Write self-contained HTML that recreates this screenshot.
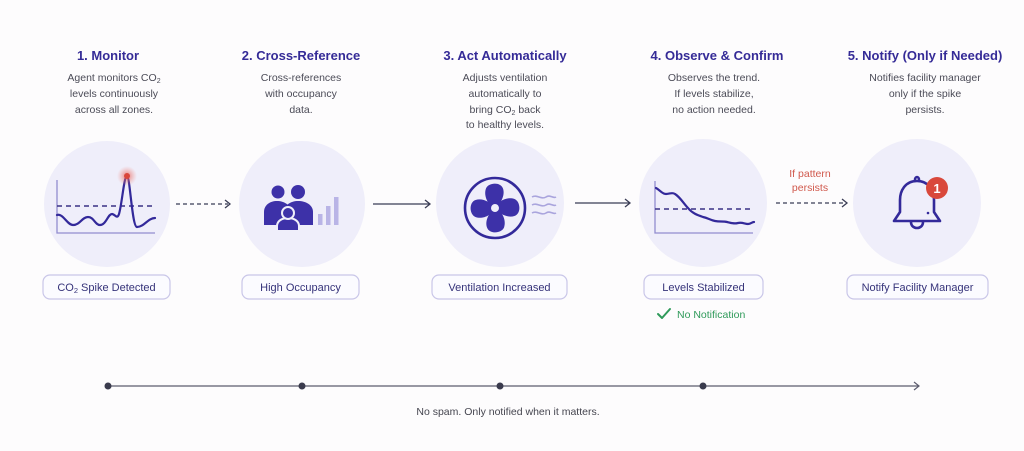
<!DOCTYPE html>
<html><head><meta charset="utf-8"><style>
html,body{margin:0;padding:0;background:#fdfcfd;}
svg{display:block;}
text{font-family:"Liberation Sans",Arial,sans-serif;}
.t{font-size:13px;font-weight:bold;fill:#352b97;text-anchor:middle;}
.d{font-size:10.5px;fill:#4b4b57;text-anchor:middle;}
.p{font-size:11px;fill:#36337a;text-anchor:middle;}
.pill{fill:#fbfbff;stroke:#c9c6e8;stroke-width:1.2;}
.c{fill:#efeefa;}
</style></head><body>
<svg width="1024" height="451" viewBox="0 0 1024 451" xmlns="http://www.w3.org/2000/svg">
<defs>
<radialGradient id="glow"><stop offset="0" stop-color="#e9544a" stop-opacity="0.75"/><stop offset="1" stop-color="#f08a80" stop-opacity="0"/></radialGradient>
</defs>
<rect width="1024" height="451" fill="#fdfcfd"/>

<!-- Titles -->
<text class="t" x="108" y="60">1. Monitor</text>
<text class="t" x="301" y="60">2. Cross-Reference</text>
<text class="t" x="505" y="60">3. Act Automatically</text>
<text class="t" x="717" y="60">4. Observe &amp; Confirm</text>
<text class="t" x="925" y="60">5. Notify (Only if Needed)</text>

<!-- Descriptions -->
<text class="d" x="114" y="81">Agent monitors CO<tspan font-size="7" dy="2">2</tspan></text>
<text class="d" x="114" y="97">levels continuously</text>
<text class="d" x="114" y="113">across all zones.</text>

<text class="d" x="301" y="81">Cross-references</text>
<text class="d" x="301" y="97">with occupancy</text>
<text class="d" x="301" y="113">data.</text>

<text class="d" x="505" y="81">Adjusts ventilation</text>
<text class="d" x="505" y="97">automatically to</text>
<text class="d" x="505" y="113">bring CO<tspan font-size="7" dy="2">2</tspan><tspan dy="-2"> back</tspan></text>
<text class="d" x="505" y="128">to healthy levels.</text>

<text class="d" x="714" y="81">Observes the trend.</text>
<text class="d" x="714" y="97">If levels stabilize,</text>
<text class="d" x="714" y="113">no action needed.</text>

<text class="d" x="925" y="81">Notifies facility manager</text>
<text class="d" x="925" y="97">only if the spike</text>
<text class="d" x="925" y="113">persists.</text>

<!-- Circles -->
<circle class="c" cx="107" cy="204" r="63"/>
<circle class="c" cx="302" cy="204" r="63"/>
<circle class="c" cx="500" cy="203" r="64"/>
<circle class="c" cx="703" cy="203" r="64"/>
<circle class="c" cx="917" cy="203" r="64"/>

<!-- Chart 1 -->
<g>
<path d="M57,180 L57,233 L155,233" fill="none" stroke="#928dcf" stroke-width="1.3"/>
<line x1="57" y1="206" x2="156" y2="206" stroke="#3a3185" stroke-width="1.5" stroke-dasharray="5,4"/>
<path d="M57,215 C63,213 67,225 73,225 C80,225 82,217 88,217 C94,217 95,225 100,225 C106,225 108,214 112,214 C115,214 117,220 119,214 C122,204 124,176 127,176 C130,176 132,227 137,227 C144,227 148,218 155,218" fill="none" stroke="#33299a" stroke-width="2.2" stroke-linecap="round"/>
<circle cx="127" cy="176" r="10" fill="url(#glow)"/>
<circle cx="127" cy="176" r="3" fill="#d9453a"/>
</g>

<!-- People icon -->
<g fill="#3d31a8">
<circle cx="278" cy="192" r="6.5"/>
<circle cx="298" cy="192" r="7"/>
<path d="M264,225 L264,212 C264,205 270,201 277,201 C284,201 291,205 291,212 L291,225 Z"/>
<path d="M284,225 L284,212 C284,205 291,201 298,201 C306,201 313,205 313,212 L313,225 Z"/>
<path d="M277,231 L277,226 C277,221 282,218 288,218 C294,218 299,221 299,226 L299,231 Z" stroke="#efeefa" stroke-width="2"/>
<circle cx="288" cy="213" r="6" stroke="#efeefa" stroke-width="2"/>
</g>
<g fill="#b9b4e6">
<rect x="318" y="214" width="4.5" height="11"/>
<rect x="326" y="206" width="4.5" height="19"/>
<rect x="334" y="197" width="4.5" height="28"/>
</g>

<!-- Fan -->
<g>
<circle cx="495" cy="208" r="30" fill="none" stroke="#33299a" stroke-width="2.6"/>
<g fill="#3d31a8" transform="translate(495,208) rotate(-3)">
<path id="bl" d="M0,0 C-7,-3 -11,-13 -8,-20 C-5,-26 7,-26 9,-19 C11,-12 6,-4 0,0 Z"/>
<use href="#bl" transform="rotate(90)"/>
<use href="#bl" transform="rotate(180)"/>
<use href="#bl" transform="rotate(270)"/>
<circle r="4" fill="#efeefa"/>
</g>
<g fill="none" stroke="#a9a4dd" stroke-width="1.6">
<path d="M532,197 C537,194 541,200 546,197 C550,194 553,199 556,197"/>
<path d="M532,205 C537,202 541,208 546,205 C550,202 553,207 556,205"/>
<path d="M532,213 C537,210 541,216 546,213 C550,210 553,215 556,213"/>
</g>
</g>

<!-- Chart 4 -->
<g>
<path d="M655,181 L655,233 L753,233" fill="none" stroke="#928dcf" stroke-width="1.3"/>
<line x1="655" y1="209" x2="754" y2="209" stroke="#3a3185" stroke-width="1.5" stroke-dasharray="5,4"/>
<path d="M656,188 C660,190 662,194 666,194 C670,194 672,192 675,194 C680,197 684,204 688,208 C692,213 697,215 703,217 C708,218 710,220 715,221 C720,222 723,221 727,222 C731,223 734,224 738,223 C742,222 745,224 748,224 C751,224 752,222 754,222" fill="none" stroke="#33299a" stroke-width="2.2" stroke-linecap="round"/>
</g>

<!-- Bell -->
<g fill="none" stroke="#33299a" stroke-width="2.6" stroke-linejoin="round" stroke-linecap="round">
<path d="M917,181 C905,181 900,191 900,200 L900,212 L894,221 L940,221 L934,212 L934,200 C934,191 929,181 917,181 Z"/>
<path d="M911,222 C911,230 923,230 923,222"/>
<path d="M915,180 C915,176 919,176 919,180"/>
</g>
<circle cx="928" cy="213" r="1.3" fill="#33299a"/>
<circle cx="937" cy="188" r="11" fill="#d9483b"/>
<text x="937" y="193" font-size="13" font-weight="bold" fill="#fff" text-anchor="middle">1</text>

<!-- Connectors -->
<g stroke="#3a3d55" stroke-width="1.3" fill="none">
<line x1="176" y1="204" x2="228" y2="204" stroke-dasharray="4,3"/>
<path d="M225,200 L230,204 L225,208"/>
<line x1="373" y1="204" x2="429" y2="204"/>
<path d="M425,200 L430,204 L425,208"/>
<line x1="575" y1="203" x2="629" y2="203"/>
<path d="M625,199 L630,203 L625,207"/>
<line x1="776" y1="203" x2="844" y2="203" stroke-dasharray="4,3"/>
<path d="M842,199 L847,203 L842,207"/>
</g>
<text x="810" y="177" font-size="10.5" fill="#d0584c" text-anchor="middle">If pattern</text>
<text x="810" y="191" font-size="10.5" fill="#d0584c" text-anchor="middle">persists</text>

<!-- Pills -->
<rect class="pill" x="43" y="275" width="127" height="24" rx="7"/>
<text class="p" x="106.5" y="291">CO<tspan font-size="7.5" dy="2">2</tspan><tspan dy="-2"> Spike Detected</tspan></text>
<rect class="pill" x="242" y="275" width="117" height="24" rx="7"/>
<text class="p" x="300.5" y="291">High Occupancy</text>
<rect class="pill" x="432" y="275" width="135" height="24" rx="7"/>
<text class="p" x="499.5" y="291">Ventilation Increased</text>
<rect class="pill" x="644" y="275" width="119" height="24" rx="7"/>
<text class="p" x="703.5" y="291">Levels Stabilized</text>
<rect class="pill" x="847" y="275" width="141" height="24" rx="7"/>
<text class="p" x="917.5" y="291">Notify Facility Manager</text>

<!-- No notification -->
<path d="M658,314 L662,318 L670,309" fill="none" stroke="#2f9a5a" stroke-width="2" stroke-linecap="round" stroke-linejoin="round"/>
<text x="677" y="318" font-size="10.5" fill="#2f9a5a">No Notification</text>

<!-- Timeline -->
<line x1="108" y1="386" x2="919" y2="386" stroke="#5c5c6e" stroke-width="1.2"/>
<path d="M914,382 L919,386 L914,390" fill="none" stroke="#5c5c6e" stroke-width="1.2"/>
<g fill="#3a3b4d">
<circle cx="108" cy="386" r="3.5"/>
<circle cx="302" cy="386" r="3.5"/>
<circle cx="500" cy="386" r="3.5"/>
<circle cx="703" cy="386" r="3.5"/>
</g>
<text x="508" y="415" font-size="10.5" fill="#45454f" text-anchor="middle">No spam. Only notified when it matters.</text>
</svg>
</body></html>
